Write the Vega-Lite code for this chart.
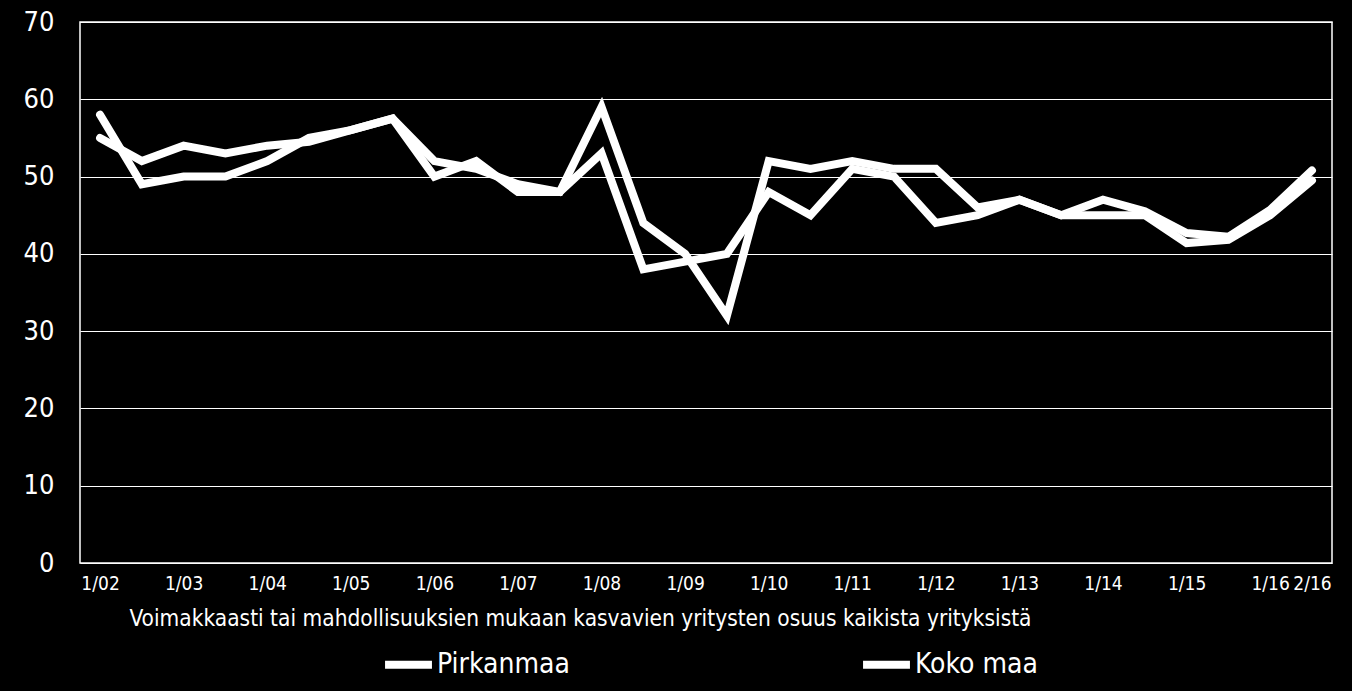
{
  "$schema": "https://vega.github.io/schema/vega-lite/v6.json",
  "autosize": {"type": "none"},
  "width": 1252,
  "height": 541,
  "padding": {"left": 80, "top": 22, "right": 20, "bottom": 128},
  "background": "black",
  "config": {
    "view": {"stroke": "white", "strokeWidth": 1.5},
    "font": "DejaVu Sans Condensed"
  },
  "data": {
    "values": [
      {"period": "1/02", "sarja": "Pirkanmaa", "osuus": 58},
      {"period": "2/02", "sarja": "Pirkanmaa", "osuus": 49},
      {"period": "1/03", "sarja": "Pirkanmaa", "osuus": 50},
      {"period": "2/03", "sarja": "Pirkanmaa", "osuus": 50},
      {"period": "1/04", "sarja": "Pirkanmaa", "osuus": 52},
      {"period": "2/04", "sarja": "Pirkanmaa", "osuus": 55},
      {"period": "1/05", "sarja": "Pirkanmaa", "osuus": 56},
      {"period": "2/05", "sarja": "Pirkanmaa", "osuus": 57.5},
      {"period": "1/06", "sarja": "Pirkanmaa", "osuus": 50},
      {"period": "2/06", "sarja": "Pirkanmaa", "osuus": 52},
      {"period": "1/07", "sarja": "Pirkanmaa", "osuus": 48},
      {"period": "2/07", "sarja": "Pirkanmaa", "osuus": 48},
      {"period": "1/08", "sarja": "Pirkanmaa", "osuus": 59},
      {"period": "2/08", "sarja": "Pirkanmaa", "osuus": 44},
      {"period": "1/09", "sarja": "Pirkanmaa", "osuus": 40},
      {"period": "2/09", "sarja": "Pirkanmaa", "osuus": 32},
      {"period": "1/10", "sarja": "Pirkanmaa", "osuus": 52},
      {"period": "2/10", "sarja": "Pirkanmaa", "osuus": 51},
      {"period": "1/11", "sarja": "Pirkanmaa", "osuus": 52},
      {"period": "2/11", "sarja": "Pirkanmaa", "osuus": 51},
      {"period": "1/12", "sarja": "Pirkanmaa", "osuus": 51},
      {"period": "2/12", "sarja": "Pirkanmaa", "osuus": 46},
      {"period": "1/13", "sarja": "Pirkanmaa", "osuus": 47},
      {"period": "2/13", "sarja": "Pirkanmaa", "osuus": 45},
      {"period": "1/14", "sarja": "Pirkanmaa", "osuus": 47},
      {"period": "2/14", "sarja": "Pirkanmaa", "osuus": 45.5},
      {"period": "1/15", "sarja": "Pirkanmaa", "osuus": 42.7},
      {"period": "2/15", "sarja": "Pirkanmaa", "osuus": 42.2},
      {"period": "1/16", "sarja": "Pirkanmaa", "osuus": 45.7},
      {"period": "2/16", "sarja": "Pirkanmaa", "osuus": 50.8},
      {"period": "1/02", "sarja": "Koko maa", "osuus": 55},
      {"period": "2/02", "sarja": "Koko maa", "osuus": 52},
      {"period": "1/03", "sarja": "Koko maa", "osuus": 54},
      {"period": "2/03", "sarja": "Koko maa", "osuus": 53},
      {"period": "1/04", "sarja": "Koko maa", "osuus": 54},
      {"period": "2/04", "sarja": "Koko maa", "osuus": 54.5},
      {"period": "1/05", "sarja": "Koko maa", "osuus": 56},
      {"period": "2/05", "sarja": "Koko maa", "osuus": 57.5},
      {"period": "1/06", "sarja": "Koko maa", "osuus": 52},
      {"period": "2/06", "sarja": "Koko maa", "osuus": 51},
      {"period": "1/07", "sarja": "Koko maa", "osuus": 49},
      {"period": "2/07", "sarja": "Koko maa", "osuus": 48},
      {"period": "1/08", "sarja": "Koko maa", "osuus": 53},
      {"period": "2/08", "sarja": "Koko maa", "osuus": 38},
      {"period": "1/09", "sarja": "Koko maa", "osuus": 39},
      {"period": "2/09", "sarja": "Koko maa", "osuus": 40},
      {"period": "1/10", "sarja": "Koko maa", "osuus": 48},
      {"period": "2/10", "sarja": "Koko maa", "osuus": 45},
      {"period": "1/11", "sarja": "Koko maa", "osuus": 51},
      {"period": "2/11", "sarja": "Koko maa", "osuus": 50},
      {"period": "1/12", "sarja": "Koko maa", "osuus": 44},
      {"period": "2/12", "sarja": "Koko maa", "osuus": 45},
      {"period": "1/13", "sarja": "Koko maa", "osuus": 47},
      {"period": "2/13", "sarja": "Koko maa", "osuus": 45},
      {"period": "1/14", "sarja": "Koko maa", "osuus": 45},
      {"period": "2/14", "sarja": "Koko maa", "osuus": 45},
      {"period": "1/15", "sarja": "Koko maa", "osuus": 41.4},
      {"period": "2/15", "sarja": "Koko maa", "osuus": 41.8},
      {"period": "1/16", "sarja": "Koko maa", "osuus": 45},
      {"period": "2/16", "sarja": "Koko maa", "osuus": 49.5}
    ]
  },
  "mark": {"type": "line", "strokeWidth": 8, "strokeCap": "round"},
  "encoding": {
    "x": {
      "field": "period",
      "type": "ordinal",
      "sort": null,
      "scale": {"type": "point", "padding": 0.48},
      "axis": {
        "title": "Voimakkaasti tai mahdollisuuksien mukaan kasvavien yritysten osuus kaikista yrityksistä",
        "titleColor": "white",
        "titleFontSize": 22.5,
        "titleFontWeight": "normal",
        "titleX": 500,
        "titleY": 55,
        "titleAlign": "center",
        "titleBaseline": "middle",
        "labelColor": "white",
        "labelFontSize": 19,
        "labelAngle": 0,
        "labelPadding": 11,
        "labelOverlap": false,
        "labelExpr": "indexof(datum.value, '1/') == 0 || datum.value == '2/16' ? datum.value : ''",
        "ticks": false,
        "domain": false,
        "grid": false
      }
    },
    "y": {
      "field": "osuus",
      "type": "quantitative",
      "scale": {"domain": [0, 70]},
      "axis": {
        "title": null,
        "values": [0, 10, 20, 30, 40, 50, 60, 70],
        "labelColor": "white",
        "labelFontSize": 27,
        "labelPadding": 26,
        "ticks": false,
        "domain": false,
        "gridColor": "white",
        "gridWidth": 1.2,
        "gridOpacity": 1
      }
    },
    "color": {
      "field": "sarja",
      "type": "nominal",
      "sort": ["Pirkanmaa", "Koko maa"],
      "scale": {"range": ["white", "white"]},
      "legend": {
        "title": null,
        "orient": "none",
        "direction": "horizontal",
        "legendX": 301,
        "legendY": 615,
        "symbolType": "stroke",
        "symbolStrokeWidth": 8,
        "symbolSize": 2200,
        "labelColor": "white",
        "labelFontSize": 28,
        "labelOffset": 1,
        "columnPadding": 277
      }
    }
  }
}
